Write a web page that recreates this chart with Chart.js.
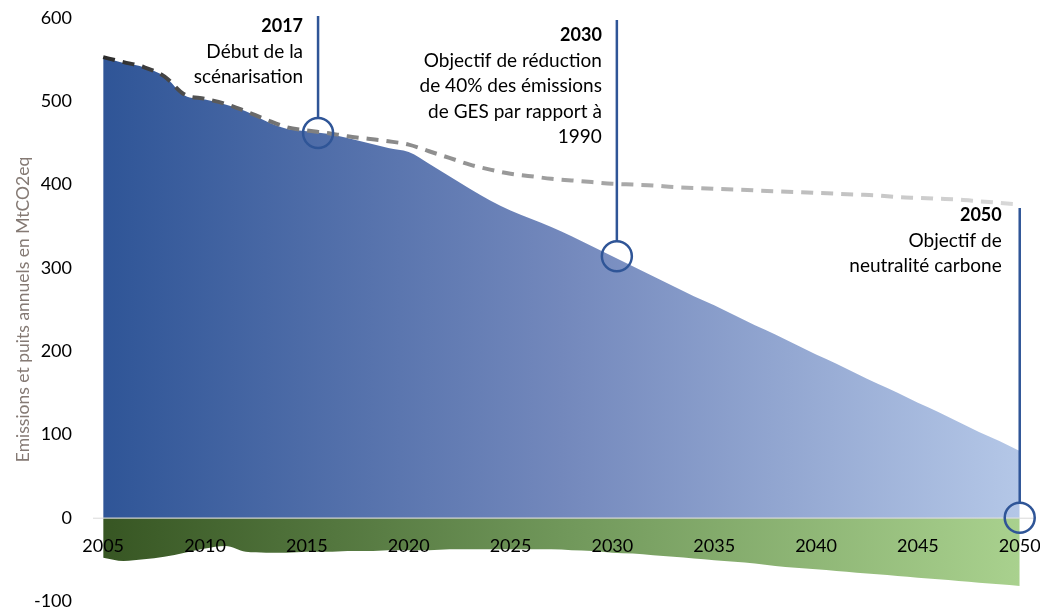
<!DOCTYPE html>
<html>
<head>
<meta charset="utf-8">
<script src="https://cdn.jsdelivr.net/npm/chart.js@4"></script>
<style>
  html, body { margin: 0; padding: 0; background: #fff; }
  .wrap { width: 1040px; height: 616px; }
</style>
</head>
<body>
<div class="wrap"><canvas id="chart"></canvas></div>
<script>
const years = [2005, 2006, 2007, 2008, 2009, 2010, 2011, 2012, 2013, 2014,
  2015, 2016, 2017, 2018, 2019, 2020, 2021, 2022, 2023, 2024,
  2025, 2026, 2027, 2028, 2029, 2030, 2031, 2032, 2033, 2034,
  2035, 2036, 2037, 2038, 2039, 2040, 2041, 2042, 2043, 2044,
  2045, 2046, 2047, 2048, 2049, 2050];

// emissions (blue area)
const emissions = [553, 546, 541, 530, 507, 502, 496, 488, 476, 467,
  464, 461, 456, 450, 444, 439, 425, 410, 395, 381,
  369, 359, 349, 338, 326, 314, 302, 290, 278, 266,
  255, 243, 231, 220, 208, 196, 185, 173, 161, 150,
  138, 127, 115, 103, 92, 80];

// sinks (green area)
const sinks = [-48, -52, -50, -47, -42, -37, -34, -41, -42, -42,
  -41, -41, -40, -40, -39, -39, -39, -38, -38, -38,
  -38, -38, -38, -39, -40, -42, -43, -45, -47, -49,
  -51, -53, -55, -58, -60, -62, -64, -66, -68, -70,
  -72, -74, -76, -78, -80, -82];

// dashed trajectory
const trend = [553, 547, 541, 530, 508, 503, 497, 488, 478, 469,
  465, 462, 458, 455, 452, 448, 440, 432, 424, 418,
  413, 410, 407, 405, 403, 401, 400, 399, 397, 396,
  395, 394, 393, 392, 391, 390, 389, 388, 387, 385,
  384, 383, 382, 380, 378, 376];

const xTicks = [2005, 2010, 2015, 2020, 2025, 2030, 2035, 2040, 2045, 2050];
const yTicks = [-100, 0, 100, 200, 300, 400, 500, 600];

const markers = [
  { x: 2015.55, top: 16, circle: 462, textY: 26, textDx: 15, lines: ['2017', 'Début de la', 'scénarisation'] },
  { x: 2030.22, top: 20, circle: 314, textY: 35, textDx: 15, lines: ['2030', 'Objectif de réduction', 'de 40% des émissions', 'de GES par rapport à', '1990'] },
  { x: 2050, top: 208, circle: 0, textY: 215, textDx: 18, lines: ['2050', 'Objectif de', 'neutralité carbone'] }
];

const pts = arr => years.map((y, i) => ({ x: y, y: arr[i] }));
const FONT = 'Lato';

function hGrad(chart, stops) {
  const { ctx, chartArea, scales } = chart;
  if (!chartArea) return stops[0][1];
  const x0 = scales.x.getPixelForValue(years[0]);
  const x1 = scales.x.getPixelForValue(years[years.length - 1]);
  const g = ctx.createLinearGradient(x0, 0, x1, 0);
  stops.forEach(s => g.addColorStop(s[0], s[1]));
  return g;
}

const overlay = {
  id: 'overlay',
  afterDatasetsDraw(chart) {
    const { ctx, chartArea, scales } = chart;
    const x = scales.x, y = scales.y;
    const y0 = y.getPixelForValue(0);
    ctx.save();

    // zero line
    ctx.strokeStyle = '#d9d9d9';
    ctx.lineWidth = 1;
    ctx.beginPath();
    ctx.moveTo(chartArea.left, y0 + 0.5);
    ctx.lineTo(chartArea.right, y0 + 0.5);
    ctx.stroke();

    // year labels along the zero line
    ctx.fillStyle = '#000';
    ctx.font = '18px ' + FONT;
    ctx.textAlign = 'center';
    ctx.textBaseline = 'middle';
    xTicks.forEach(t => ctx.fillText(String(t), x.getPixelForValue(t), y0 + 28));

    // markers
    markers.forEach(m => {
      const px = x.getPixelForValue(m.x);
      const cy = y.getPixelForValue(m.circle);
      ctx.strokeStyle = '#2f5597';
      ctx.lineWidth = 2.5;
      ctx.beginPath();
      ctx.moveTo(px, m.top);
      ctx.lineTo(px, cy - 15);
      ctx.stroke();
      ctx.beginPath();
      ctx.arc(px, cy, 15, 0, Math.PI * 2);
      ctx.stroke();

      ctx.fillStyle = '#000';
      ctx.textAlign = 'right';
      m.lines.forEach((t, i) => {
        ctx.font = (i === 0 ? 'bold 18px ' : '19px ') + FONT;
        ctx.fillText(t, px - m.textDx, m.textY + i * 25.5);
      });
    });
    ctx.restore();
  }
};

new Chart(document.getElementById('chart'), {
  type: 'line',
  data: {
    datasets: [
      {
        label: 'Tendance',
        data: pts(trend),
        borderColor: c => hGrad(c.chart, [[0, '#2b2b2b'], [0.22, '#7f7f7f'], [0.55, '#a6a6a6'], [1, '#d9d9d9']]),
        borderWidth: 4,
        borderDash: [12, 8],
        fill: false,
        pointRadius: 0,
        cubicInterpolationMode: 'monotone',
        order: 0
      },
      {
        label: 'Emissions',
        data: pts(emissions),
        backgroundColor: c => hGrad(c.chart, [[0, '#2f5597'], [0.5, '#7388bc'], [1, '#b4c7e7']]),
        borderWidth: 0,
        fill: 'origin',
        pointRadius: 0,
        cubicInterpolationMode: 'monotone',
        order: 1
      },
      {
        label: 'Puits',
        data: pts(sinks),
        backgroundColor: c => hGrad(c.chart, [[0, '#375623'], [0.5, '#70975a'], [1, '#a9d18e']]),
        borderWidth: 0,
        fill: 'origin',
        pointRadius: 0,
        cubicInterpolationMode: 'monotone',
        order: 2
      }
    ]
  },
  options: {
    responsive: true,
    maintainAspectRatio: false,
    animation: false,
    layout: { padding: { top: 18, bottom: 15, right: 5, left: 0 } },
    plugins: {
      legend: { display: false },
      tooltip: { enabled: false }
    },
    scales: {
      x: {
        type: 'linear',
        min: 2004.5,
        max: 2050.75,
        display: false
      },
      y: {
        min: -100,
        max: 600,
        afterBuildTicks: s => { s.ticks = yTicks.map(v => ({ value: v })); },
        afterFit: s => { s.width = 93; },
        grid: { display: true, drawOnChartArea: false, drawTicks: true, tickLength: 21, color: 'rgba(0,0,0,0)' },
        border: { display: false },
        ticks: { color: '#000', font: { family: FONT, size: 18 }, padding: 0 },
        title: {
          display: true,
          text: 'Emissions et puits annuels en MtCO2eq',
          color: '#857a74',
          font: { family: FONT, size: 17.5 },
          padding: { top: 13, bottom: 0 }
        }
      }
    }
  },
  plugins: [overlay]
});
</script>
</body>
</html>
